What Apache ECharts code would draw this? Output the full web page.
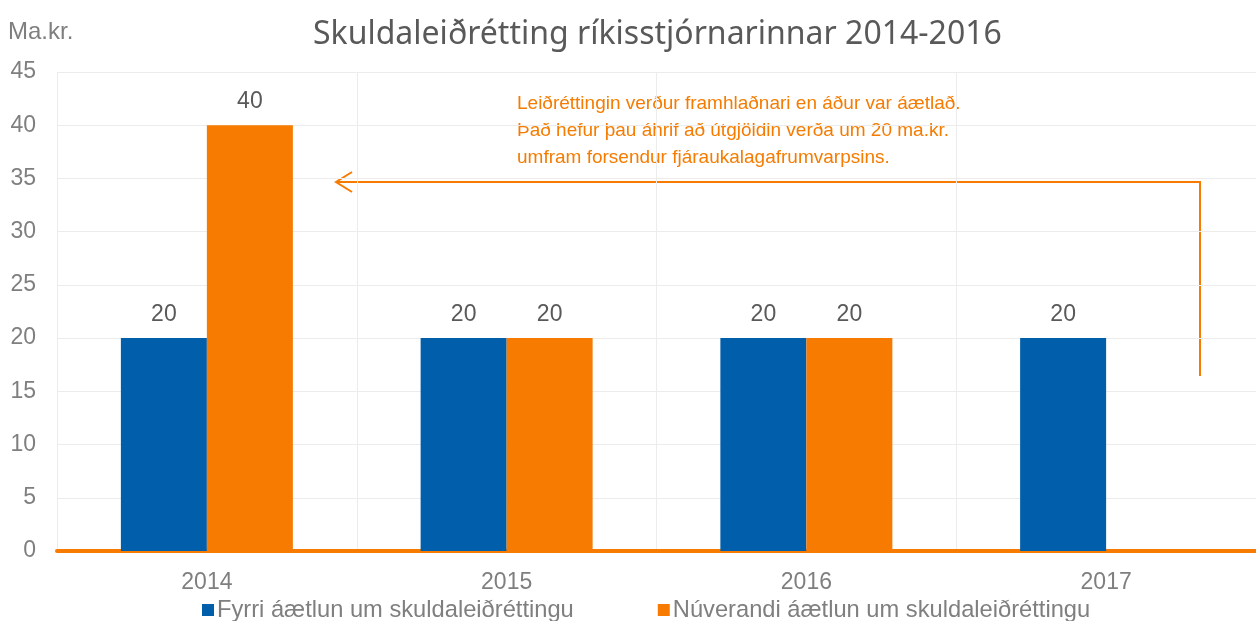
<!DOCTYPE html>
<html>
<head>
<meta charset="utf-8">
<script src="https://cdn.jsdelivr.net/npm/echarts@6/dist/echarts.min.js"></script>
<style>
  html, body { margin: 0; padding: 0; background: #fff; }
  #chart { width: 1256px; height: 621px; }
</style>
</head>
<body>
<div id="chart"></div>
<script>
var years = ['2014', '2015', '2016', '2017'];
var fyrri = [20, 20, 20, 20];
var nuverandi = [40, 20, 20, null];
var yTicks = { min: 0, max: 45, interval: 5 };
var noteLines = [
    'Leiðréttingin verður framhlaðnari en áður var áætlað.',
    'Það hefur þau áhrif að útgjöldin verða um 20 ma.kr.',
    'umfram forsendur fjáraukalagafrumvarpsins.'
];

var chart = echarts.init(document.getElementById('chart'), null, { renderer: 'canvas' });

var gray = '#7f7f7f';
var orange = '#f77b00';
var blue = '#005eab';
var font = 'Liberation Sans';

var option = {
    animation: false,
    title: {
        text: 'Skuldaleiðrétting ríkisstjórnarinnar 2014-2016',
        left: 313,
        top: 19,
        padding: 0,
        textStyle: { fontFamily: 'Noto Sans', fontWeight: 'normal', fontSize: 32, color: '#595959' }
    },
    grid: { left: 57, width: 1202, top: 72, bottom: 70, containLabel: false },
    legend: {
        top: 598,
        left: 202,
        padding: 0,
        itemWidth: 12,
        itemHeight: 12,
        itemGap: 84,
        icon: 'rect',
        textStyle: { fontFamily: font, fontSize: 23.7, color: gray, padding: [0, 0, 0, -2] },
        data: ['Fyrri áætlun um skuldaleiðréttingu', 'Núverandi áætlun um skuldaleiðréttingu']
    },
    xAxis: {
        type: 'category',
        data: years,
        axisTick: { show: false },
        axisLine: { lineStyle: { color: orange, width: 4 } },
        axisLabel: { fontFamily: font, fontSize: 23, color: gray, margin: 20 },
        splitLine: { show: true, lineStyle: { color: '#ececec', width: 1 } }
    },
    yAxis: {
        type: 'value',
        min: yTicks.min,
        max: yTicks.max,
        interval: yTicks.interval,
        name: 'Ma.kr.',
        nameLocation: 'end',
        nameGap: 0,
        nameTextStyle: { fontFamily: font, fontSize: 24, color: gray, align: 'left', padding: [0, 0, 28, -49] },
        axisLine: { show: false },
        axisTick: { show: false },
        axisLabel: { fontFamily: font, fontSize: 23, color: gray, margin: 21 },
        splitLine: { lineStyle: { color: '#ececec', width: 1 } }
    },
    series: [
        {
            name: 'Fyrri áætlun um skuldaleiðréttingu',
            type: 'bar',
            data: fyrri,
            barWidth: 86,
            barGap: '0%',
            itemStyle: { color: blue },
            label: { show: true, position: 'top', distance: 12, fontFamily: font, fontSize: 23, color: '#595959' }
        },
        {
            name: 'Núverandi áætlun um skuldaleiðréttingu',
            type: 'bar',
            data: nuverandi,
            barWidth: 86,
            barGap: '0%',
            itemStyle: { color: orange },
            label: { show: true, position: 'top', distance: 12, fontFamily: font, fontSize: 23, color: '#595959' }
        }
    ],
    graphic: [
        {
            type: 'polyline',
            shape: { points: [[1200, 376], [1200, 182], [337, 182]] },
            style: { stroke: orange, lineWidth: 2, fill: null }
        },
        {
            type: 'polyline',
            shape: { points: [[352, 172], [336, 182], [352, 192]] },
            style: { stroke: orange, lineWidth: 2, fill: null }
        },
        {
            type: 'text',
            left: 517,
            top: 90,
            style: {
                text: noteLines.join('\n'),
                fontFamily: font,
                fontSize: 19,
                lineHeight: 27,
                fill: '#f57c00'
            }
        }
    ]
};

chart.setOption(option);
window.addEventListener('resize', chart.resize);
</script>
</body>
</html>
